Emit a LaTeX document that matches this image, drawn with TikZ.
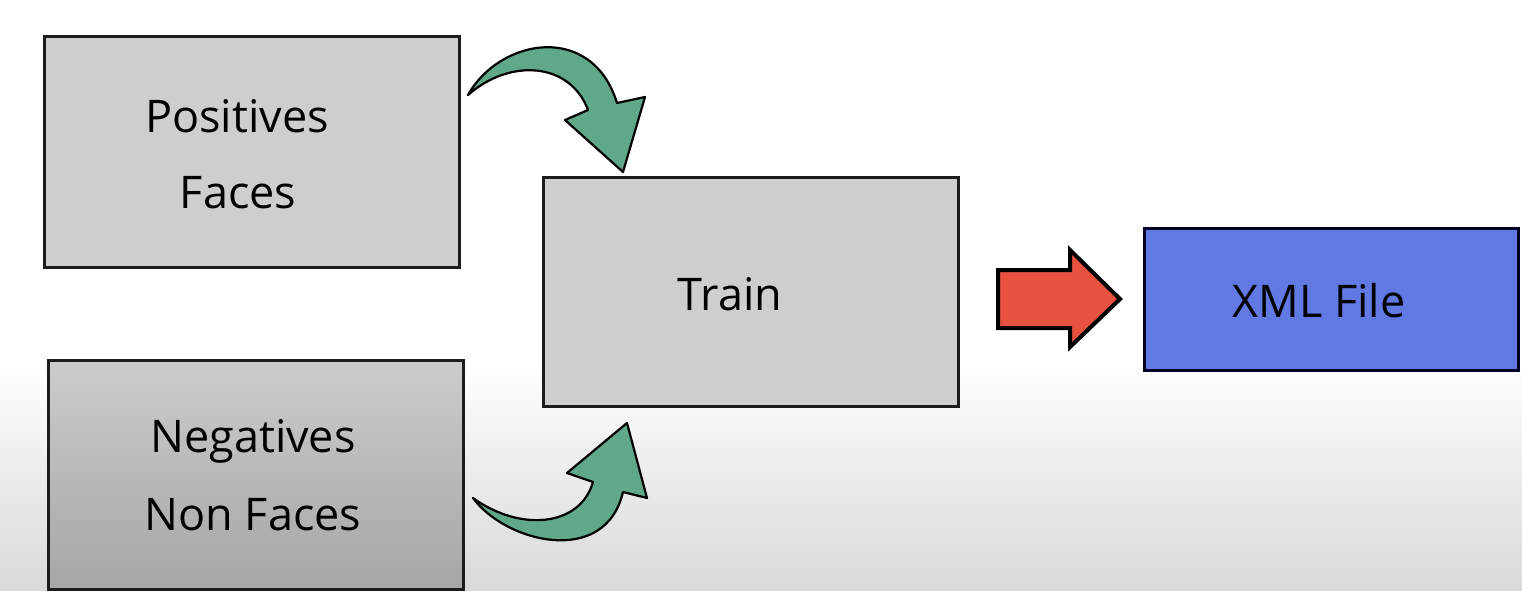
\documentclass[tikz,border=0pt]{standalone}
\usepackage{fontspec}
\setmainfont{Open Sans}
\usetikzlibrary{calc}
\definecolor{boxgray}{RGB}{206,206,206}
\definecolor{boxedge}{RGB}{28,28,28}
\definecolor{greenarrow}{RGB}{96,168,138}
\definecolor{redarrow}{RGB}{232,80,64}
\definecolor{xmlblue}{RGB}{96,121,227}
\definecolor{negtop}{RGB}{204,204,204}
\definecolor{negbottom}{RGB}{166,166,166}
\begin{document}
\begin{tikzpicture}[x=1pt,y=-1pt,
  box/.style={draw=boxedge,line width=3pt,fill=boxgray,rectangle,inner sep=0pt},
  lbl/.style={font=\fontsize{45}{76}\selectfont,align=center,text=black,inner sep=0pt},
  greenbend/.style={fill=greenarrow,draw=black,line width=2.2pt,line join=round},
  redblock/.style={fill=redarrow,draw=black,line width=4pt,line join=miter}]
\useasboundingbox (0,0) rectangle (1522,591);
\fill[white] (0,0) rectangle (1522,591);
\shade[top color=white,bottom color=gray!30] (0,360) rectangle (1522,591);
% boxes
\node[box,minimum width=415pt,minimum height=230pt] (pos) at (251.5,152) {};
\node[box,minimum width=415pt,minimum height=229pt,top color=negtop,bottom color=negbottom] (neg) at (255.5,474.5) {};
\node[box,minimum width=415pt,minimum height=229pt] (train) at (750.5,291.5) {};
\node[box,fill=xmlblue,draw=black!85!blue,minimum width=374pt,minimum height=142pt] (xml) at (1331.5,299.5) {};
% labels
\node[lbl,anchor=base] (posa) at (237,132) {Positives};
\node[lbl,anchor=base] (posb) at (238,208) {Faces};
\node[lbl,anchor=base] (nega) at (253,452) {Negatives};
\node[lbl,anchor=base] (negb) at (253,530) {Non Faces};
\node[lbl,anchor=base] (trainl) at (730,310) {Train};
\node[lbl,anchor=base] (xmll) at (1319,317) {XML File};
% curved green arrows
\draw[greenbend] (468,95) .. controls (500,38) and (592,22) .. (617,103)
  -- (645,97) -- (623,172) -- (565,120) -- (588,110)
  .. controls (570,62) and (510,58) .. cycle;
\draw[greenbend] (473,498) .. controls (505,542) and (605,568) .. (623,492)
  -- (647,498) -- (627,423) -- (567,473) -- (593,482)
  .. controls (580,527) and (520,532) .. cycle;
% red block arrow
\draw[redblock] (998,270) -- (1070,270) -- (1070,250) -- (1120,299)
  -- (1070,347) -- (1070,328) -- (998,328) -- cycle;
\end{tikzpicture}
\end{document}
